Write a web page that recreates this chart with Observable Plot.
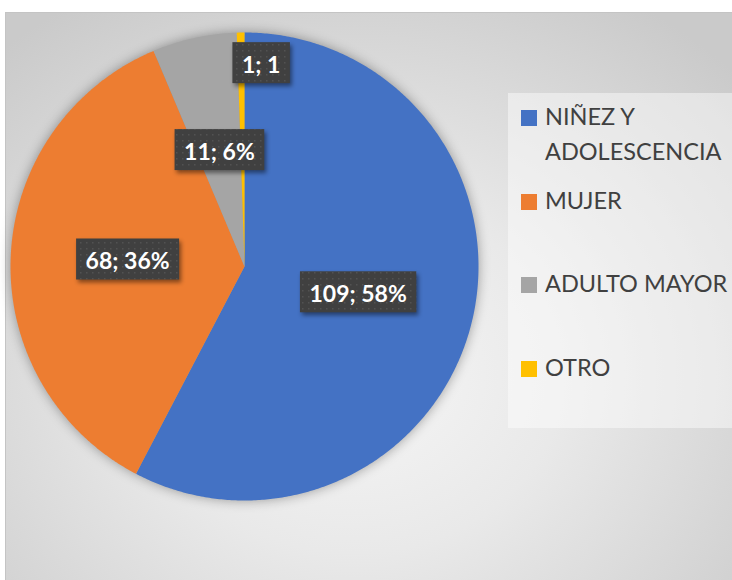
<!DOCTYPE html>
<html><head><meta charset="utf-8">
<script src="https://cdn.jsdelivr.net/npm/d3@7"></script>
<script src="https://cdn.jsdelivr.net/npm/@observablehq/plot@0.6"></script>
<style>
html,body{margin:0;padding:0;background:#fff;overflow:hidden;}
#wrap{position:relative;width:732px;height:580px;overflow:hidden;background:#fff;font-family:Lato,"Open Sans",sans-serif;}
#frame{position:absolute;left:5px;top:12px;width:727px;height:568px;border-top:1px solid #c4c4c4;border-left:1px solid #c4c4c4;box-sizing:border-box;
  background:radial-gradient(ellipse 72% 78% at 48% 64%, #f6f6f6 0%, #e9e9e9 40%, #cacaca 100%);}
#chart{position:absolute;left:0;top:0;}
#legend{position:absolute;left:508px;top:93px;width:240px;height:335px;background:rgba(255,255,255,0.45);}
.item{position:absolute;left:0;width:240px;}
.sw{position:absolute;left:13px;width:16px;height:16px;}
.lab{position:absolute;left:37px;width:200px;font-size:23.5px;line-height:35px;color:#404040;white-space:normal;}
</style></head>
<body><div id="wrap"><div id="frame"></div><div id="chart"></div><div id="legend"></div></div>
<script>
const categories = ["NIÑEZ Y ADOLESCENCIA", "MUJER", "ADULTO MAYOR", "OTRO"];
const values = [109, 68, 11, 1];
const labels = ["109; 58%", "68; 36%", "11; 6%", "1; 1"];
const colors = ["#4472C4", "#ED7D31", "#A5A5A5", "#FFC000"];

const total = d3.sum(values);
const arcs = d3.pie().sort(null).value(d => d)(values);

const pts = [];
arcs.forEach((a, i) => {
  const cat = categories[i];
  pts.push({cat, x: 0, y: 0});
  const n = Math.max(2, Math.ceil((a.endAngle - a.startAngle) / (Math.PI / 360)));
  for (let k = 0; k <= n; k++) {
    const t = a.startAngle + (a.endAngle - a.startAngle) * k / n;
    pts.push({cat, x: Math.sin(t), y: Math.cos(t)});
  }
});

const lab = arcs.map((a, i) => {
  const share = values[i] / total;
  const mid = (a.startAngle + a.endAngle) / 2;
  const r = share < 0.02 ? 0.86 : 0.5;
  return {label: labels[i], x: r * Math.sin(mid), y: r * Math.cos(mid), small: share < 0.02};
});

const font = "Lato, 'Open Sans', sans-serif";
const plot = Plot.plot({
  width: 732, height: 580,
  marginLeft: 10, marginRight: 254, marginTop: 32, marginBottom: 80,
  x: {domain: [-1, 1], axis: null},
  y: {domain: [-1, 1], axis: null},
  color: {domain: categories, range: colors},
  style: {background: "transparent", overflow: "visible"},
  marks: [
    Plot.line(pts, {x: "x", y: "y", z: "cat", fill: "cat", stroke: "none", curve: "linear"}),
    Plot.text(lab.filter(d => !d.small), {x: "x", y: "y", text: "label", fill: "white", fontSize: 23, fontWeight: "bold", fontFamily: font}),
    Plot.text(lab.filter(d => d.small), {x: "x", y: "y", dx: 20, text: "label", fill: "white", fontSize: 23, fontWeight: "bold", fontFamily: font})
  ]
});
document.getElementById("chart").appendChild(plot);

const svg = d3.select(plot);
svg.select('g[aria-label="line"]').style("filter", "drop-shadow(0px 0px 6px rgba(0,0,0,0.35))");

const defs = svg.insert("defs", ":first-child");
const pat = defs.append("pattern").attr("id", "dots").attr("width", 6).attr("height", 6).attr("patternUnits", "userSpaceOnUse");
pat.append("rect").attr("width", 6).attr("height", 6).attr("fill", "#404040");
pat.append("rect").attr("x", 2).attr("y", 2).attr("width", 1.5).attr("height", 1.5).attr("fill", "#525252");

plot.querySelectorAll('g[aria-label="text"]').forEach(g => {
  const boxes = svg.insert("g", () => g).style("filter", "drop-shadow(2px 3px 2px rgba(0,0,0,0.45))");
  g.querySelectorAll("text").forEach(t => {
    const r = t.getBoundingClientRect();
    const sr = plot.getBoundingClientRect();
    const cx = r.left - sr.left + r.width / 2;
    const cy = r.top - sr.top + r.height / 2;
    const w = r.width + 19, h = 41;
    boxes.append("rect").attr("x", cx - w / 2).attr("y", cy - h / 2 - 1).attr("width", w).attr("height", h).attr("fill", "url(#dots)");
  });
});

const leg = d3.select("#legend");
categories.forEach((c, i) => {
  const top = 6 + i * 83.6;
  const it = leg.append("div").attr("class", "item").style("top", top + "px");
  it.append("div").attr("class", "sw").style("top", "11px").style("background", colors[i]);
  it.append("div").attr("class", "lab").text(c);
});
</script></body></html>
